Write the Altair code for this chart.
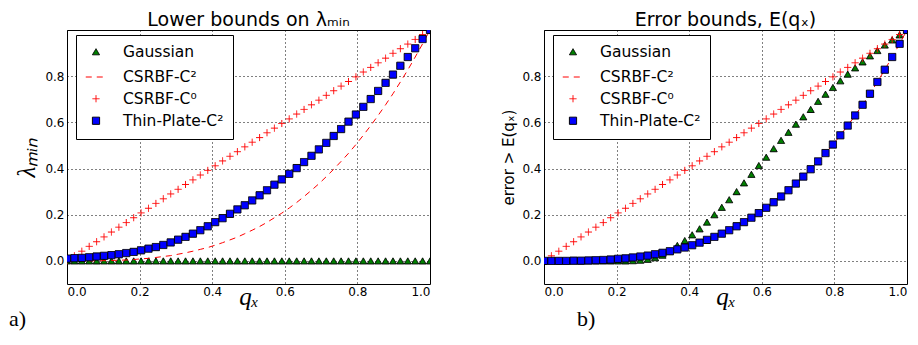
import altair as alt
import pandas as pd

qx = [0.0, 0.0204, 0.0408, 0.0612, 0.0816, 0.1020, 0.1224, 0.1429, 0.1633, 0.1837,
      0.2041, 0.2245, 0.2449, 0.2653, 0.2857, 0.3061, 0.3265, 0.3469, 0.3673, 0.3878,
      0.4082, 0.4286, 0.4490, 0.4694, 0.4898, 0.5102, 0.5306, 0.5510, 0.5714, 0.5918,
      0.6122, 0.6327, 0.6531, 0.6735, 0.6939, 0.7143, 0.7347, 0.7551, 0.7755, 0.7959,
      0.8163, 0.8367, 0.8571, 0.8776, 0.8980, 0.9184, 0.9388, 0.9592, 0.9796, 1.0]

# panel a) lower bounds on lambda_min
gauss_a = [0.0, 0.0, 0.0, 0.0, 0.0, 0.0, 0.0, 0.0, 0.0, 0.0,
           0.0, 0.0, 0.0, 0.0, 0.0, 0.0, 0.0, 0.0, 0.0, 0.0,
           0.0, 0.0, 0.0, 0.0, 0.0, 0.0, 0.0, 0.0, 0.0, 0.0,
           0.0, 0.0, 0.0, 0.0, 0.0, 0.0, 0.0, 0.0, 0.0, 0.0,
           0.0, 0.0, 0.0, 0.0, 0.0, 0.0, 0.0, 0.0, 0.0, 0.0]
c2_a = [0.0, 0.0, 0.0, 0.0, 0.001, 0.001, 0.002, 0.003, 0.004, 0.006,
        0.009, 0.011, 0.015, 0.019, 0.023, 0.029, 0.035, 0.042, 0.050, 0.058,
        0.068, 0.079, 0.091, 0.103, 0.118, 0.133, 0.149, 0.167, 0.187, 0.207,
        0.229, 0.253, 0.279, 0.306, 0.334, 0.365, 0.397, 0.431, 0.466, 0.504,
        0.544, 0.586, 0.630, 0.676, 0.724, 0.775, 0.827, 0.883, 0.940, 1.0]
c0_a = [0.0, 0.022, 0.042, 0.063, 0.083, 0.104, 0.125, 0.146, 0.166, 0.187,
        0.208, 0.228, 0.249, 0.269, 0.290, 0.310, 0.331, 0.351, 0.372, 0.392,
        0.412, 0.433, 0.453, 0.473, 0.494, 0.514, 0.534, 0.555, 0.575, 0.595,
        0.615, 0.636, 0.656, 0.676, 0.696, 0.717, 0.737, 0.757, 0.777, 0.797,
        0.818, 0.838, 0.858, 0.878, 0.899, 0.919, 0.939, 0.959, 0.980, 1.0]
tp_a = [0.010, 0.012, 0.013, 0.016, 0.019, 0.022, 0.025, 0.029, 0.034, 0.039,
        0.046, 0.053, 0.060, 0.069, 0.080, 0.092, 0.104, 0.118, 0.133, 0.150,
        0.168, 0.185, 0.204, 0.223, 0.241, 0.262, 0.284, 0.306, 0.330, 0.353,
        0.377, 0.402, 0.428, 0.455, 0.483, 0.511, 0.541, 0.571, 0.603, 0.634,
        0.667, 0.701, 0.736, 0.771, 0.807, 0.845, 0.883, 0.921, 0.961, 1.0]

# panel b) error bounds E(q_x)
gauss_b = [0.0, 0.0, 0.0, 0.0, 0.0, 0.0, 0.0, 0.0, 0.0, 0.0,
           0.0, 0.0, 0.001, 0.003, 0.007, 0.014, 0.025, 0.043, 0.067, 0.088,
           0.113, 0.139, 0.168, 0.200, 0.232, 0.265, 0.300, 0.338, 0.375, 0.413,
           0.449, 0.486, 0.522, 0.557, 0.592, 0.624, 0.656, 0.691, 0.722, 0.751,
           0.780, 0.809, 0.836, 0.862, 0.888, 0.911, 0.935, 0.957, 0.979, 1.0]
c2_b = [0.0, 0.0, 0.0, 0.0, 0.001, 0.001, 0.002, 0.003, 0.004, 0.006,
        0.009, 0.011, 0.015, 0.019, 0.023, 0.029, 0.035, 0.042, 0.050, 0.058,
        0.068, 0.079, 0.091, 0.104, 0.118, 0.133, 0.150, 0.168, 0.187, 0.207,
        0.230, 0.254, 0.279, 0.306, 0.335, 0.365, 0.397, 0.431, 0.467, 0.504,
        0.544, 0.586, 0.630, 0.676, 0.724, 0.775, 0.828, 0.883, 0.940, 1.0]
c0_b = c0_a
tp_b = [0.0, 0.0, 0.0, 0.0, 0.001, 0.001, 0.002, 0.003, 0.004, 0.006,
        0.009, 0.011, 0.015, 0.019, 0.023, 0.029, 0.035, 0.042, 0.050, 0.058,
        0.068, 0.079, 0.091, 0.104, 0.118, 0.133, 0.150, 0.168, 0.187, 0.207,
        0.230, 0.254, 0.279, 0.306, 0.335, 0.365, 0.397, 0.431, 0.467, 0.504,
        0.544, 0.586, 0.630, 0.676, 0.724, 0.775, 0.828, 0.883, 0.940, 1.0]

x_ticks = [0.0, 0.2, 0.4, 0.6, 0.8, 1.0]
y_ticks = [0.0, 0.2, 0.4, 0.6, 0.8]

SERIES = ["Gaussian", "CSRBF-C²", "CSRBF-C⁰", "Thin-Plate-C²"]
FILLS = ["#008000", "transparent", "transparent", "#0000ff"]
STROKES = ["#000000", "#ff0000", "#ff0000", "#000000"]
SHAPES = ["triangle-up", "stroke", "M-1,0L1,0M0,-1L0,1", "square"]
SIZES = [50, 420, 50, 52]
DASHES = [[1, 0], [6, 5], [1, 0], [1, 0]]

W, H = 363, 254


def frame(name, ys):
    return pd.DataFrame({"qx": qx, "y": ys, "series": name})


def legend():
    return alt.Legend(title=None, orient="none", legendX=9, legendY=5)


def panel(gauss, c2, c0, tp, title, ytitle, ytitle_font, ytitle_size, ytitle_style, tag, tag_x):
    x = alt.X("qx:Q", scale=alt.Scale(domain=[0, 1], nice=False),
              axis=alt.Axis(values=x_ticks, format=".1f", title="qₓ", labelPadding=2,
                            titleFont="Liberation Serif", titleFontStyle="italic",
                            titleFontSize=25, titleFontWeight="normal",
                            titleY=20, titleBaseline="alphabetic"))
    y = alt.Y("y:Q", scale=alt.Scale(domain=[-0.1, 1.0], nice=False, zero=False),
              axis=alt.Axis(values=y_ticks, format=".1f", title=ytitle, labelPadding=3,
                            titleFont=ytitle_font, titleFontSize=ytitle_size,
                            titleFontStyle=ytitle_style, titleFontWeight="normal",
                            titlePadding=5))
    sym = dict(
        fill=alt.Fill("series:N", scale=alt.Scale(domain=SERIES, range=FILLS), legend=legend()),
        stroke=alt.Stroke("series:N", scale=alt.Scale(domain=SERIES, range=STROKES), legend=legend()),
        shape=alt.Shape("series:N", scale=alt.Scale(domain=SERIES, range=SHAPES), legend=legend()),
        size=alt.Size("series:N", scale=alt.Scale(type="ordinal", domain=SERIES, range=SIZES), legend=legend()),
        strokeDash=alt.StrokeDash("series:N", scale=alt.Scale(domain=SERIES, range=DASHES), legend=legend()),
    )

    def pts(df):
        return alt.Chart(df).mark_point(opacity=1, strokeWidth=1, clip=True).encode(x=x, y=y, **sym)

    g = pts(frame(SERIES[0], gauss))
    line = alt.Chart(frame(SERIES[1], c2)).mark_line(
        color="#ff0000", strokeDash=[6, 5], strokeWidth=1, clip=True).encode(x=x, y=y)
    cr = pts(frame(SERIES[2], c0))
    sq = pts(frame(SERIES[3], tp))
    lab = alt.Chart(pd.DataFrame({"t": [tag]})).mark_text(
        align="left", baseline="alphabetic", font="Liberation Serif", fontSize=22, color="black"
    ).encode(x=alt.value(tag_x), y=alt.value(296), text="t:N")

    return alt.layer(g, line, cr, sq, lab).properties(
        width=W, height=H,
        title=alt.TitleParams(title, fontSize=19, font="DejaVu Sans", fontWeight="normal",
                              offset=0, anchor="middle", color="black"))


left = panel(gauss_a, c2_a, c0_a, tp_a, "Lower bounds on λₘᵢₙ", "λₘᵢₙ",
             "Liberation Serif", 25, "italic", "a)", -58)
right = panel(gauss_b, c2_b, c0_b, tp_b, "Error bounds, E(qₓ)", "error > E(qₓ)",
              "DejaVu Sans", 15, "normal", "b)", 33)

chart = alt.hconcat(left, right, spacing=114, bounds="flush").resolve_scale(
    x="independent", y="independent", fill="independent", stroke="independent",
    shape="independent", size="independent", strokeDash="independent"
).properties(
    padding={"left": 0, "top": 2, "right": 0, "bottom": 5}
).configure_view(
    stroke="black", strokeWidth=1
).configure_axis(
    labelFont="DejaVu Sans", labelFontSize=12, labelColor="black",
    titleColor="black", domain=False, ticks=False,
    grid=True, gridColor="black", gridDash=[1, 3], gridWidth=1, gridOpacity=1
).configure_legend(
    labelFont="DejaVu Sans", labelFontSize=15.5, labelColor="black",
    fillColor="white", strokeColor="black", padding=9, cornerRadius=0,
    rowPadding=5, labelOffset=16, symbolStrokeWidth=1
)

chart.save("out.html", embed_options={"renderer": "svg", "actions": False})
